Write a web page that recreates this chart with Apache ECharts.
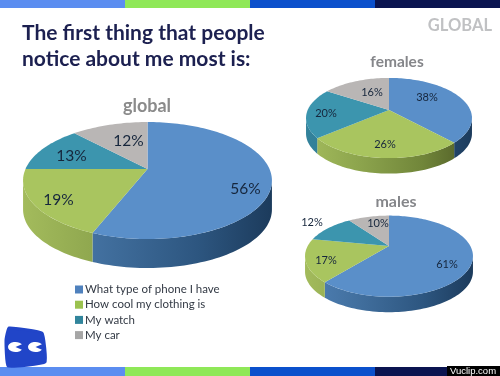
<!DOCTYPE html>
<html>
<head>
<meta charset="utf-8">
<style>
  html, body { margin: 0; padding: 0; background: #fff; }
  #chart { width: 500px; height: 376px; }
</style>
<script src="https://cdn.jsdelivr.net/npm/echarts@6/dist/echarts.min.js"></script>
</head>
<body>
<div id="chart"></div>
<script>
const categories = ['What type of phone I have', 'How cool my clothing is', 'My watch', 'My car']
const globalShares = [56, 19, 13, 12]
const femaleShares = [38, 26, 20, 16]
const maleShares = [61, 17, 12, 10]
const pieNames = ['global', 'females', 'males']

const fontFamily = 'Lato, "Open Sans", sans-serif'
const topColors = ['#5a8fc9', '#a9c55f', '#3c95ae', '#b9b6b5']
const legendColors = ['#4f81bd', '#9bc24f', '#31859c', '#a6a6a6']
const wallStops = [
  ['#4f80b5', '#42709f', '#2d5680', '#1c3b5c'],
  ['#a3bb5c', '#8ea64e', '#71863a', '#4f5c26'],
  ['#33829b', '#2f7a92', '#2a6f86', '#235f73'],
  ['#a5a2a1', '#989594', '#8a8786', '#7a7776']
]

// apex, half widths and wall depth of each tilted pie, k is the perspective
const pies = [
  { cx: 147.5, cy: 169, sx: 122, sy: 56.2, k: 0.197, depth: 29, fontSize: 15.5,
    labels: [[98, 20], [-89, 31], [-76, -13], [-19, -28]] },
  { cx: 389, cy: 110, sx: 81.3, sy: 38.5, k: 0.2, depth: 15.5, fontSize: 11,
    labels: [[38, -13], [-4, 34], [-63, 3], [-17, -18]] },
  { cx: 389, cy: 246, sx: 81.3, sy: 38, k: 0.25, depth: 15.5, fontSize: 11,
    labels: [[58, 18], [-63, 14], [-77, -24], [-11, -23]] }
]
const allShares = [globalShares, femaleShares, maleShares]

function project(pie, theta, depth) {
  const u = Math.sin(theta)
  const v = -Math.cos(theta)
  const d = 1 - pie.k * v
  return [pie.cx + pie.sx * u / d, pie.cy + pie.sy * v / d + (depth || 0)]
}

function arcPoints(pie, from, to, depth) {
  const steps = Math.max(2, Math.ceil((to - from) / 0.03))
  const pts = []
  for (let i = 0; i <= steps; i++) {
    pts.push(project(pie, from + (to - from) * i / steps, depth))
  }
  return pts
}

function renderSlice(params, api) {
  const pieIndex = params.dataIndex
  const catIndex = params.seriesIndex
  const pie = pies[pieIndex]
  const shares = allShares[pieIndex]
  const before = shares.slice(0, catIndex).reduce((a, b) => a + b, 0)
  const value = api.value(0)
  const from = before / 100 * Math.PI * 2
  const to = (before + value) / 100 * Math.PI * 2
  const children = []

  // the wall only shows on the near side of the rim
  const rimStart = Math.acos(-pie.k)
  const rimEnd = Math.PI * 2 - rimStart
  const wallFrom = Math.max(from, rimStart)
  const wallTo = Math.min(to, rimEnd)
  if (wallTo > wallFrom) {
    const stops = wallStops[catIndex]
    const halfWidth = pie.sx / Math.sqrt(1 - pie.k * pie.k)
    const rim = arcPoints(pie, wallFrom, wallTo, 0)
    const low = arcPoints(pie, wallFrom, wallTo, pie.depth).reverse()
    children.push({
      type: 'polygon',
      z2: 1,
      shape: { points: rim.concat(low) },
      style: {
        fill: new echarts.graphic.LinearGradient(pie.cx - halfWidth, 0, pie.cx + halfWidth, 0, [
          { offset: 0, color: stops[0] },
          { offset: 0.3, color: stops[1] },
          { offset: 0.7, color: stops[2] },
          { offset: 1, color: stops[3] }
        ], true)
      }
    })
  }

  children.push({
    type: 'polygon',
    z2: 2,
    shape: { points: [[pie.cx, pie.cy]].concat(arcPoints(pie, from, to, 0)) },
    style: { fill: topColors[catIndex] }
  })
  children.push({
    type: 'text',
    z2: 3,
    style: {
      x: pie.cx + pie.labels[catIndex][0],
      y: pie.cy + pie.labels[catIndex][1],
      text: value + '%',
      fill: '#16263c',
      font: pie.fontSize + 'px ' + fontFamily,
      align: 'center',
      verticalAlign: 'middle'
    }
  })
  return { type: 'group', children: children }
}

function heading(text, x, y, size, color, align) {
  return {
    type: 'text',
    z: 5,
    style: {
      x: x, y: y, text: text, fill: color,
      font: 'bold ' + size + 'px ' + fontFamily,
      align: align || 'center',
      verticalAlign: 'middle'
    }
  }
}

function band(x, y, width, height, color) {
  return { type: 'rect', z: 4, shape: { x: x, y: y, width: width, height: height }, style: { fill: color } }
}

function logoEye(cx) {
  return {
    type: 'sector',
    z: 6,
    x: cx,
    y: 347,
    scaleY: 0.68,
    shape: { cx: 0, cy: 0, r: 7.5, startAngle: 0.55, endAngle: Math.PI * 2 - 0.55 },
    style: { fill: '#ffffff' }
  }
}

const bandColors = ['#5b8df0', '#8fe858', '#0b50cc', '#0a1450']
const bands = []
bandColors.forEach((color, i) => {
  bands.push(band(i * 125, 0, 125, 8, color))
  bands.push(band(i * 125, 367, 125, 9, color))
})

const chart = echarts.init(document.getElementById('chart'), null, { renderer: 'canvas' })
chart.setOption({
  animation: false,
  backgroundColor: '#ffffff',
  legend: {
    orient: 'vertical',
    left: 70,
    top: 278,
    itemWidth: 8,
    itemHeight: 8,
    itemGap: 2.2,
    icon: 'rect',
    selectedMode: false,
    data: categories,
    textStyle: { fontFamily: fontFamily, fontSize: 11.5, color: '#333a45', padding: [0, 0, 0, -3], lineHeight: 13 }
  },
  series: categories.map((name, c) => ({
    type: 'custom',
    name: name,
    coordinateSystem: 'none',
    silent: true,
    color: legendColors[c],
    itemStyle: { color: legendColors[c] },
    renderItem: renderSlice,
    data: allShares.map((shares) => shares[c])
  })),
  graphic: bands.concat([
    heading('The first thing that people', 22, 33, 21, '#1c2050', 'left'),
    heading('notice about me most is:', 22, 59, 21, '#1c2050', 'left'),
    heading('GLOBAL', 492, 26, 16.5, '#c0c1c3', 'right'),
    heading(pieNames[0], 147, 106, 18, '#8b8b8b'),
    heading(pieNames[1], 397, 62, 15.5, '#85868a'),
    heading(pieNames[2], 396, 202, 16, '#85868a'),
    // logo
    {
      type: 'polygon', z: 5,
      shape: { points: [[9, 328], [42, 333], [45, 362], [8, 366], [6, 340]], smooth: 0.1 },
      style: { fill: '#2145c8', stroke: '#2145c8', lineWidth: 3, lineJoin: 'round' }
    },
    logoEye(15.5),
    logoEye(35.5),
    // watermark
    band(447, 366, 53, 10, '#000000'),
    {
      type: 'text', z: 6,
      style: { x: 473, y: 371, text: 'Vuclip.com', fill: '#ffffff', font: '9.5px "Liberation Sans", sans-serif', align: 'center', verticalAlign: 'middle' }
    }
  ])
})
</script>
</body>
</html>
